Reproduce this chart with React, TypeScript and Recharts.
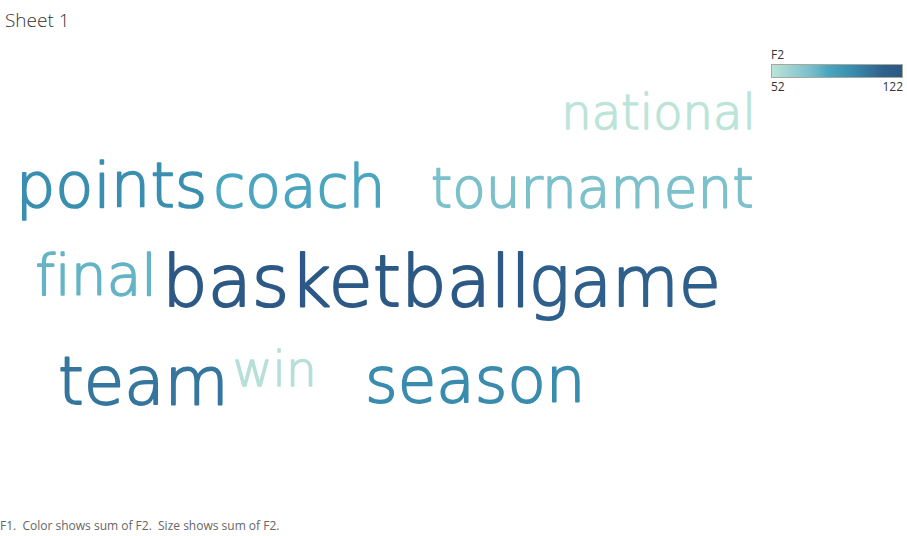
import { ScatterChart, Scatter, XAxis, YAxis } from "recharts";

// word cloud: F1 = word, F2 = sum (drives both colour and size)
const words = ["national", "points", "coach", "tournament", "final", "basketball", "game", "team", "win", "season"];
const f2 = [52, 94, 82, 72, 77, 122, 112, 104, 54, 95];
// layout slot of each word on a 0-100 grid (center x, baseline y)
const layoutX = [72.6, 12.3, 33.0, 65.3, 10.6, 38.2, 68.9, 15.8, 30.3, 52.4];
const layoutY = [24.1, 38.6, 38.6, 38.6, 55.0, 57.1, 57.1, 75.4, 72.0, 75.0];
const legendTicks = [52, 122];

const minV = 52;
const maxV = 122;
const minSize = 48;
const maxSize = 72;

// Blue-Teal ramp
const stops: [number, string][] = [
  [0, "#bce4d8"],
  [0.29, "#7bbfcb"],
  [0.36, "#64b4c6"],
  [0.43, "#4aa5bf"],
  [0.6, "#3a8fb0"],
  [0.77, "#35719a"],
  [0.86, "#2f5f8c"],
  [1, "#2c5985"],
];

const hex = (c: string) => [1, 3, 5].map((i) => parseInt(c.slice(i, i + 2), 16));

function colorFor(v: number) {
  const t = Math.max(0, Math.min(1, (v - minV) / (maxV - minV)));
  for (let i = 1; i < stops.length; i++) {
    if (t <= stops[i][0]) {
      const [t0, c0] = stops[i - 1];
      const [t1, c1] = stops[i];
      const k = (t - t0) / (t1 - t0);
      const a = hex(c0);
      const b = hex(c1);
      const m = a.map((x, j) => Math.round(x + (b[j] - x) * k));
      return `rgb(${m[0]},${m[1]},${m[2]})`;
    }
  }
  return stops[stops.length - 1][1];
}

const sizeFor = (v: number) => minSize + ((v - minV) / (maxV - minV)) * (maxSize - minSize);

const data = words.map((w, i) => ({ word: w, value: f2[i], x: layoutX[i], y: layoutY[i] }));

const font = "'Open Sans', 'DejaVu Sans', sans-serif";
const wordFont = "'DejaVu Sans', sans-serif";

const WordShape = (props: any) => {
  const { cx, cy, payload } = props;
  const size = sizeFor(payload.value);
  const color = colorFor(payload.value);
  return (
    <text
      x={cx}
      y={cy}
      textAnchor="middle"
      fontFamily={wordFont}
      fontWeight={200}
      fontSize={size}
      fill={color}
      stroke={color}
      strokeWidth={size * 0.028}
      strokeLinejoin="round"
      style={{ fontVariantLigatures: "none", fontFeatureSettings: "'liga' 0, 'clig' 0" }}
    >
      {payload.word}
    </text>
  );
};

export default function App() {
  const gradient = `linear-gradient(to right, ${stops.map(([t, c]) => `${c} ${t * 100}%`).join(", ")})`;
  return (
    <div style={{ position: "absolute", left: 0, top: 0, width: 907, height: 536, background: "#fff", fontFamily: font }}>
      <div style={{ position: "absolute", left: 5, top: 7, fontSize: 19, color: "#333", fontWeight: 300 }}>Sheet 1</div>

      <ScatterChart width={907} height={536} margin={{ top: 0, right: 0, bottom: 0, left: 0 }}>
        <XAxis type="number" dataKey="x" domain={[0, 100]} hide />
        <YAxis type="number" dataKey="y" domain={[0, 100]} reversed hide />
        <Scatter data={data} shape={<WordShape />} isAnimationActive={false} />
      </ScatterChart>

      <div style={{ position: "absolute", left: 771, top: 46 }}>
        <div style={{ fontSize: 12, color: "#333" }}>F2</div>
        <div style={{ width: 130, height: 12, marginTop: 1, border: "1px solid #a8a89c", background: gradient }} />
        <div style={{ width: 132, display: "flex", justifyContent: "space-between", fontSize: 12, color: "#333", marginTop: 0 }}>
          {legendTicks.map((t) => (
            <span key={t}>{t}</span>
          ))}
        </div>
      </div>

      <div style={{ position: "absolute", left: 0, top: 517, fontSize: 12, color: "#666" }}>
        F1.&nbsp; Color shows sum of F2.&nbsp; Size shows sum of F2.
      </div>
    </div>
  );
}
